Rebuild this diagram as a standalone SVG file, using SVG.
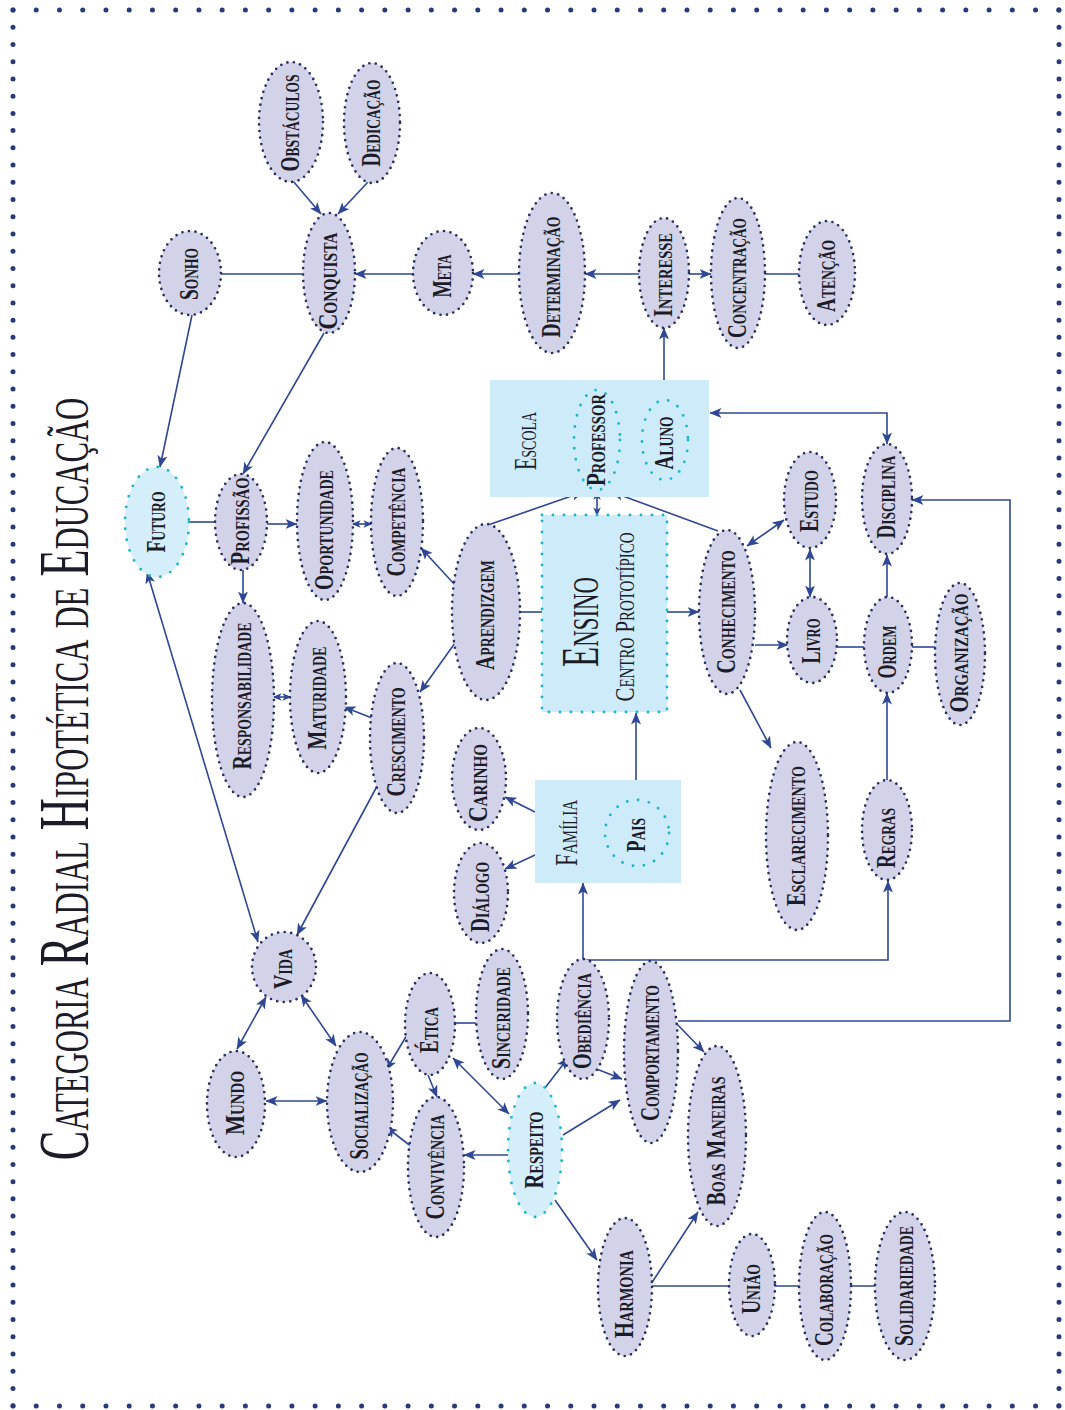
<svg xmlns="http://www.w3.org/2000/svg" width="1065" height="1410" viewBox="0 0 1065 1410">
<style>
.nd{fill:#d2d3e9;stroke:#2a2f63;stroke-width:2.7;stroke-linecap:round;stroke-dasharray:0 6.6}
.cyf{fill:#d4eff9;stroke:#1db6cb;stroke-width:2.9;stroke-linecap:round;stroke-dasharray:0 11}
.cyn{fill:none;stroke:#1db6cb;stroke-width:2.9;stroke-linecap:round;stroke-dasharray:0 11}
.box{fill:#cdebf9}
.lb{font-family:"Liberation Serif","Times New Roman",serif;font-size:27px;font-weight:bold;font-variant:small-caps;text-anchor:middle;fill:#1c1c28}
.bt{font-family:"Liberation Serif","Times New Roman",serif;font-variant:small-caps;text-anchor:middle;fill:#1c1c28}
.cn{stroke:#2f4795;stroke-width:1.6;fill:none}
.ar{marker-end:url(#ah)}
.db{marker-start:url(#ah);marker-end:url(#ah)}
.ds{marker-start:url(#as);marker-end:url(#as)}
.bd{stroke:#283a7c;stroke-width:5;stroke-linecap:round;fill:none}
</style>
<defs>
<marker id="ah" viewBox="0 0 12 10" refX="11.5" refY="5" markerWidth="12" markerHeight="10" markerUnits="userSpaceOnUse" orient="auto-start-reverse">
<path d="M0,0 L12,5 L0,10 L3,5 z" fill="#2f4795"/>
</marker>
<marker id="as" viewBox="0 0 12 10" refX="11.5" refY="5" markerWidth="9" markerHeight="8" markerUnits="userSpaceOnUse" orient="auto-start-reverse">
<path d="M0,0 L12,5 L0,10 L3,5 z" fill="#2f4795"/>
</marker>
</defs>
<rect width="1065" height="1410" fill="#ffffff"/>
<g id="border">
<line class="bd" x1="13" y1="10" x2="1059" y2="10" stroke-dasharray="0 23.24"/>
<line class="bd" x1="13" y1="1406" x2="1059" y2="1406" stroke-dasharray="0 23.24"/>
<line class="bd" x1="13" y1="10" x2="13" y2="1406" stroke-dasharray="0 17.23"/>
<line class="bd" x1="1059" y1="10" x2="1059" y2="1406" stroke-dasharray="0 17.23"/>
</g>
<g id="title">
<text class="bt" transform="translate(88,779) rotate(-90) scale(0.6238,1)" font-size="71">Categoria Radial Hipotética de Educação</text>
</g>
<g id="connectors">
<line class="cn ar" x1="293" y1="181" x2="321" y2="214"/>
<line class="cn ar" x1="368" y1="182" x2="338" y2="214"/>
<line class="cn" x1="221" y1="274" x2="303" y2="274"/>
<line class="cn ar" x1="413" y1="274" x2="355" y2="274"/>
<line class="cn ar" x1="519" y1="274" x2="473" y2="274"/>
<line class="cn ar" x1="639" y1="274" x2="585" y2="274"/>
<line class="cn ar" x1="689" y1="274" x2="711" y2="274"/>
<line class="cn" x1="765" y1="274" x2="799" y2="274"/>
<line class="cn ar" x1="664" y1="380" x2="664" y2="328"/>
<line class="cn ar" x1="192" y1="315" x2="160" y2="467"/>
<line class="cn ar" x1="324" y1="333" x2="243" y2="474"/>
<line class="cn" x1="189" y1="522" x2="215" y2="522"/>
<line class="cn ar" x1="267" y1="524" x2="297" y2="524"/>
<line class="cn ds" x1="352" y1="524" x2="372" y2="524"/>
<line class="cn ar" x1="243" y1="570" x2="243" y2="603"/>
<line class="cn ds" x1="273" y1="697" x2="291" y2="697"/>
<line class="cn ar" x1="372" y1="718" x2="344" y2="707"/>
<line class="cn ar" x1="455" y1="643" x2="420" y2="692"/>
<line class="cn ar" x1="455" y1="585" x2="421" y2="548"/>
<line class="cn ar" x1="382" y1="777" x2="297" y2="935"/>
<line class="cn db" x1="147" y1="572" x2="258" y2="942"/>
<line class="cn ar" x1="488" y1="525" x2="583" y2="492"/>
<line class="cn ar" x1="718" y1="531" x2="612" y2="492"/>
<line class="cn ds" x1="597" y1="491" x2="597" y2="516"/>
<line class="cn" x1="520" y1="612" x2="542" y2="612"/>
<line class="cn ar" x1="667" y1="612" x2="699" y2="612"/>
<line class="cn db" x1="747" y1="546" x2="784" y2="520"/>
<line class="cn db" x1="810" y1="549" x2="810" y2="597"/>
<line class="cn ar" x1="755" y1="645" x2="788" y2="645"/>
<line class="cn" x1="837" y1="647" x2="864" y2="647"/>
<line class="cn" x1="912" y1="647" x2="936" y2="647"/>
<line class="cn ar" x1="887" y1="597" x2="887" y2="555"/>
<line class="cn ar" x1="887" y1="780" x2="887" y2="693"/>
<line class="cn ar" x1="740" y1="690" x2="771" y2="748"/>
<polyline class="cn db" points="710,413 887,413 887,444"/>
<polyline class="cn ar" points="678,1021 1010,1021 1010,500 912,500"/>
<line class="cn ar" x1="636" y1="780" x2="636" y2="713"/>
<line class="cn ar" x1="535" y1="812" x2="505" y2="797"/>
<line class="cn ar" x1="535" y1="855" x2="505" y2="869"/>
<line class="cn ar" x1="583" y1="960" x2="583" y2="883"/>
<polyline class="cn ar" points="583,960 888,960 888,881"/>
<line class="cn" x1="455" y1="1023" x2="476" y2="1023"/>
<line class="cn ar" x1="407" y1="1035" x2="386" y2="1070"/>
<line class="cn ar" x1="428" y1="1075" x2="437" y2="1097"/>
<line class="cn ar" x1="412" y1="1147" x2="386" y2="1127"/>
<line class="cn db" x1="453" y1="1058" x2="509" y2="1114"/>
<line class="cn db" x1="538" y1="1097" x2="568" y2="1058"/>
<line class="cn ar" x1="563" y1="1135" x2="620" y2="1100"/>
<line class="cn ar" x1="594" y1="1068" x2="622" y2="1079"/>
<line class="cn ar" x1="508" y1="1155" x2="464" y2="1155"/>
<line class="cn ar" x1="555" y1="1200" x2="597" y2="1260"/>
<line class="cn ar" x1="674" y1="1021" x2="704" y2="1052"/>
<line class="cn ar" x1="651" y1="1284" x2="698" y2="1212"/>
<line class="cn" x1="651" y1="1286" x2="875" y2="1286"/>
<line class="cn db" x1="301" y1="995" x2="336" y2="1046"/>
<line class="cn db" x1="266" y1="997" x2="237" y2="1049"/>
<line class="cn db" x1="266" y1="1101" x2="327" y2="1101"/>
</g>
<g id="n-escola"><rect class="box" x="490" y="380" width="219" height="117"/><text class="bt" transform="translate(536,441) rotate(-90)" font-size="32" textLength="58" lengthAdjust="spacingAndGlyphs">Escola</text></g>
<g id="n-professor"><ellipse class="cyn" cx="597" cy="440" rx="23" ry="50"/><text class="lb" transform="translate(597,440) rotate(-90)" y="7.5" textLength="92" lengthAdjust="spacingAndGlyphs">Professor</text></g>
<g id="n-aluno"><ellipse class="cyn" cx="665" cy="440" rx="23" ry="40"/><text class="lb" transform="translate(665,443) rotate(-90)" y="7.5" textLength="53" lengthAdjust="spacingAndGlyphs">Aluno</text></g>
<g id="n-ensino"><rect class="box" x="542" y="515" width="125" height="197"/><rect class="cyn" x="542" y="515" width="125" height="197" stroke-dasharray="0 12.3"/><text class="bt" transform="translate(598,622) rotate(-90)" font-size="52" textLength="90" lengthAdjust="spacingAndGlyphs">Ensino</text><text class="bt" transform="translate(634,617) rotate(-90)" font-size="28" textLength="169" lengthAdjust="spacingAndGlyphs">Centro Prototípico</text></g>
<g id="n-familia"><rect class="box" x="535" y="780" width="146" height="103"/><text class="bt" transform="translate(577,833) rotate(-90)" font-size="32" textLength="66" lengthAdjust="spacingAndGlyphs">Família</text></g>
<g id="n-pais"><ellipse class="cyn" cx="637" cy="833" rx="32" ry="33"/><text class="lb" transform="translate(637,835) rotate(-90)" y="7.5" textLength="34" lengthAdjust="spacingAndGlyphs">Pais</text></g>
<g id="n-obstaculos"><ellipse class="nd" cx="291" cy="122" rx="32" ry="60"/><text class="lb" transform="translate(291,123) rotate(-90)" y="7.5" textLength="97" lengthAdjust="spacingAndGlyphs">Obstáculos</text></g>
<g id="n-dedicacao"><ellipse class="nd" cx="372" cy="123" rx="28" ry="60"/><text class="lb" transform="translate(372,123) rotate(-90)" y="7.5" textLength="87" lengthAdjust="spacingAndGlyphs">Dedicação</text></g>
<g id="n-sonho"><ellipse class="nd" cx="190" cy="273" rx="31" ry="42"/><text class="lb" transform="translate(190,274) rotate(-90)" y="7.5" textLength="52" lengthAdjust="spacingAndGlyphs">Sonho</text></g>
<g id="n-conquista"><ellipse class="nd" cx="329" cy="273" rx="26" ry="60"/><text class="lb" transform="translate(329,281) rotate(-90)" y="7.5" textLength="97" lengthAdjust="spacingAndGlyphs">Conquista</text></g>
<g id="n-meta"><ellipse class="nd" cx="443" cy="273" rx="30" ry="42"/><text class="lb" transform="translate(443,276) rotate(-90)" y="7.5" textLength="43" lengthAdjust="spacingAndGlyphs">Meta</text></g>
<g id="n-determinacao"><ellipse class="nd" cx="552" cy="273" rx="33" ry="80"/><text class="lb" transform="translate(552,277) rotate(-90)" y="7.5" textLength="121" lengthAdjust="spacingAndGlyphs">Determinação</text></g>
<g id="n-interesse"><ellipse class="nd" cx="664" cy="273" rx="25" ry="55"/><text class="lb" transform="translate(664,275) rotate(-90)" y="7.5" textLength="84" lengthAdjust="spacingAndGlyphs">Interesse</text></g>
<g id="n-concentracao"><ellipse class="nd" cx="738" cy="273" rx="27" ry="75"/><text class="lb" transform="translate(738,278) rotate(-90)" y="7.5" textLength="120" lengthAdjust="spacingAndGlyphs">Concentração</text></g>
<g id="n-atencao"><ellipse class="nd" cx="827" cy="273" rx="28" ry="52"/><text class="lb" transform="translate(827,276) rotate(-90)" y="7.5" textLength="72" lengthAdjust="spacingAndGlyphs">Atenção</text></g>
<g id="n-futuro"><ellipse class="cyf" cx="157" cy="522" rx="32" ry="55"/><text class="lb" transform="translate(157,522) rotate(-90)" y="7.5" textLength="61" lengthAdjust="spacingAndGlyphs">Futuro</text></g>
<g id="n-profissao"><ellipse class="nd" cx="241" cy="522" rx="26" ry="48"/><text class="lb" transform="translate(241,521) rotate(-90)" y="7.5" textLength="87" lengthAdjust="spacingAndGlyphs">Profissão</text></g>
<g id="n-oportunidade"><ellipse class="nd" cx="325" cy="521" rx="28" ry="79"/><text class="lb" transform="translate(325,530) rotate(-90)" y="7.5" textLength="120" lengthAdjust="spacingAndGlyphs">Oportunidade</text></g>
<g id="n-competencia"><ellipse class="nd" cx="397" cy="522" rx="26" ry="74"/><text class="lb" transform="translate(397,522) rotate(-90)" y="7.5" textLength="109" lengthAdjust="spacingAndGlyphs">Competência</text></g>
<g id="n-responsabilidade"><ellipse class="nd" cx="243" cy="700" rx="31" ry="97"/><text class="lb" transform="translate(243,696) rotate(-90)" y="7.5" textLength="147" lengthAdjust="spacingAndGlyphs">Responsabilidade</text></g>
<g id="n-maturidade"><ellipse class="nd" cx="318" cy="697" rx="28" ry="76"/><text class="lb" transform="translate(318,698) rotate(-90)" y="7.5" textLength="103" lengthAdjust="spacingAndGlyphs">Maturidade</text></g>
<g id="n-crescimento"><ellipse class="nd" cx="397" cy="738" rx="27" ry="75"/><text class="lb" transform="translate(397,742) rotate(-90)" y="7.5" textLength="109" lengthAdjust="spacingAndGlyphs">Crescimento</text></g>
<g id="n-aprendizgem"><ellipse class="nd" cx="486" cy="612" rx="34" ry="88"/><text class="lb" transform="translate(486,615) rotate(-90)" y="7.5" textLength="110" lengthAdjust="spacingAndGlyphs">Aprendizgem</text></g>
<g id="n-carinho"><ellipse class="nd" cx="479" cy="779" rx="27" ry="51"/><text class="lb" transform="translate(479,783) rotate(-90)" y="7.5" textLength="78" lengthAdjust="spacingAndGlyphs">Carinho</text></g>
<g id="n-dialogo"><ellipse class="nd" cx="481" cy="893" rx="27" ry="50"/><text class="lb" transform="translate(481,897) rotate(-90)" y="7.5" textLength="70" lengthAdjust="spacingAndGlyphs">Diálogo</text></g>
<g id="n-conhecimento"><ellipse class="nd" cx="727" cy="612" rx="28" ry="82"/><text class="lb" transform="translate(727,612) rotate(-90)" y="7.5" textLength="123" lengthAdjust="spacingAndGlyphs">Conhecimento</text></g>
<g id="n-estudo"><ellipse class="nd" cx="810" cy="500" rx="26" ry="48"/><text class="lb" transform="translate(810,501) rotate(-90)" y="7.5" textLength="62" lengthAdjust="spacingAndGlyphs">Estudo</text></g>
<g id="n-livro"><ellipse class="nd" cx="812" cy="640" rx="25" ry="43"/><text class="lb" transform="translate(812,641) rotate(-90)" y="7.5" textLength="45" lengthAdjust="spacingAndGlyphs">Livro</text></g>
<g id="n-disciplina"><ellipse class="nd" cx="887" cy="499" rx="25" ry="55"/><text class="lb" transform="translate(887,497) rotate(-90)" y="7.5" textLength="83" lengthAdjust="spacingAndGlyphs">Disciplina</text></g>
<g id="n-ordem"><ellipse class="nd" cx="888" cy="645" rx="24" ry="48"/><text class="lb" transform="translate(888,652) rotate(-90)" y="7.5" textLength="53" lengthAdjust="spacingAndGlyphs">Ordem</text></g>
<g id="n-organizacao"><ellipse class="nd" cx="960" cy="654" rx="25" ry="71"/><text class="lb" transform="translate(960,653) rotate(-90)" y="7.5" textLength="119" lengthAdjust="spacingAndGlyphs">Organização</text></g>
<g id="n-esclarecimento"><ellipse class="nd" cx="797" cy="836" rx="31" ry="94"/><text class="lb" transform="translate(797,836) rotate(-90)" y="7.5" textLength="140" lengthAdjust="spacingAndGlyphs">Esclarecimento</text></g>
<g id="n-regras"><ellipse class="nd" cx="887" cy="830" rx="25" ry="50"/><text class="lb" transform="translate(887,838) rotate(-90)" y="7.5" textLength="60" lengthAdjust="spacingAndGlyphs">Regras</text></g>
<g id="n-vida"><ellipse class="nd" cx="284" cy="967" rx="32" ry="35"/><text class="lb" transform="translate(284,969) rotate(-90)" y="7.5" textLength="40" lengthAdjust="spacingAndGlyphs">Vida</text></g>
<g id="n-mundo"><ellipse class="nd" cx="236" cy="1104" rx="29" ry="53"/><text class="lb" transform="translate(236,1103) rotate(-90)" y="7.5" textLength="64" lengthAdjust="spacingAndGlyphs">Mundo</text></g>
<g id="n-socializacao"><ellipse class="nd" cx="360" cy="1102" rx="33" ry="70"/><text class="lb" transform="translate(360,1106) rotate(-90)" y="7.5" textLength="107" lengthAdjust="spacingAndGlyphs">Socialização</text></g>
<g id="n-etica"><ellipse class="nd" cx="430" cy="1024" rx="25" ry="51"/><text class="lb" transform="translate(430,1030) rotate(-90)" y="7.5" textLength="46" lengthAdjust="spacingAndGlyphs">Ética</text></g>
<g id="n-sinceridade"><ellipse class="nd" cx="502" cy="1014" rx="26" ry="65"/><text class="lb" transform="translate(502,1018) rotate(-90)" y="7.5" textLength="102" lengthAdjust="spacingAndGlyphs">Sinceridade</text></g>
<g id="n-obediencia"><ellipse class="nd" cx="583" cy="1019" rx="26" ry="60"/><text class="lb" transform="translate(583,1021) rotate(-90)" y="7.5" textLength="96" lengthAdjust="spacingAndGlyphs">Obediência</text></g>
<g id="n-comportamento"><ellipse class="nd" cx="651" cy="1052" rx="27" ry="91"/><text class="lb" transform="translate(651,1053) rotate(-90)" y="7.5" textLength="136" lengthAdjust="spacingAndGlyphs">Comportamento</text></g>
<g id="n-boasmaneiras"><ellipse class="nd" cx="717" cy="1136" rx="29" ry="90"/><text class="lb" transform="translate(717,1141) rotate(-90)" y="7.5" textLength="129" lengthAdjust="spacingAndGlyphs">Boas Maneiras</text></g>
<g id="n-respeito"><ellipse class="cyf" cx="535" cy="1150" rx="27" ry="67"/><text class="lb" transform="translate(535,1150) rotate(-90)" y="7.5" textLength="77" lengthAdjust="spacingAndGlyphs">Respeito</text></g>
<g id="n-convivencia"><ellipse class="nd" cx="436" cy="1167" rx="28" ry="70"/><text class="lb" transform="translate(436,1167) rotate(-90)" y="7.5" textLength="105" lengthAdjust="spacingAndGlyphs">Convivência</text></g>
<g id="n-harmonia"><ellipse class="nd" cx="625" cy="1287" rx="27" ry="69"/><text class="lb" transform="translate(625,1294) rotate(-90)" y="7.5" textLength="88" lengthAdjust="spacingAndGlyphs">Harmonia</text></g>
<g id="n-uniao"><ellipse class="nd" cx="752" cy="1285" rx="23" ry="51"/><text class="lb" transform="translate(752,1289) rotate(-90)" y="7.5" textLength="50" lengthAdjust="spacingAndGlyphs">União</text></g>
<g id="n-colaboracao"><ellipse class="nd" cx="825" cy="1286" rx="26" ry="74"/><text class="lb" transform="translate(825,1290) rotate(-90)" y="7.5" textLength="112" lengthAdjust="spacingAndGlyphs">Colaboração</text></g>
<g id="n-solidariedade"><ellipse class="nd" cx="905" cy="1286" rx="30" ry="74"/><text class="lb" transform="translate(905,1286) rotate(-90)" y="7.5" textLength="120" lengthAdjust="spacingAndGlyphs">Solidariedade</text></g>
</svg>
